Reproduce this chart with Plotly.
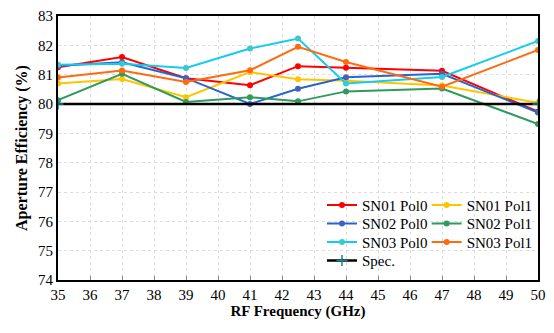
import plotly.graph_objects as go

freq = [35, 37, 39, 41, 42.5, 44, 47, 50]
sn01_pol0 = [81.25, 81.6, 80.88, 80.64, 81.29, 81.24, 81.13, 79.74]
sn01_pol1 = [80.70, 80.85, 80.23, 81.09, 80.84, 80.79, 80.63, 80.04]
sn02_pol0 = [81.30, 81.42, 80.88, 80.0, 80.52, 80.91, 81.03, 79.71]
sn02_pol1 = [80.13, 81.03, 80.07, 80.23, 80.09, 80.43, 80.53, 79.32]
sn03_pol0 = [81.34, 81.37, 81.23, 81.89, 82.23, 80.70, 80.92, 82.15]
sn03_pol1 = [80.90, 81.14, 80.75, 81.15, 81.95, 81.43, 80.59, 81.84]
spec_x = [35, 50]
spec_y = [80, 80]

# name, data, line colour, marker colour, legend column, legend row
series = [
    ("SN01 Pol0", sn01_pol0, "#FF0000", "#FF0000", 0, 0),
    ("SN01 Pol1", sn01_pol1, "#FFC400", "#FFC400", 1, 0),
    ("SN02 Pol0", sn02_pol0, "#2566CC", "#4A5FB8", 0, 1),
    ("SN02 Pol1", sn02_pol1, "#2E9A5C", "#2E9A5C", 1, 1),
    ("SN03 Pol0", sn03_pol0, "#14CCF0", "#3CC8CC", 0, 2),
    ("SN03 Pol1", sn03_pol1, "#FF6A10", "#FF6A10", 1, 2),
]

FONT = "Liberation Serif"
LEGFONT = dict(size=15, family=FONT, color="black")
COL_X = [0.550, 0.768]
ROW_Y = [0.283, 0.213, 0.143, 0.073]

fig = go.Figure()
legends = {}
for i, (name, ys, col, mcol, c, r) in enumerate(series):
    key = "legend" if i == 0 else f"legend{i+1}"
    fig.add_trace(go.Scatter(x=freq, y=ys, name=name, mode="lines+markers",
                             line=dict(color=col, width=2),
                             marker=dict(color=mcol, size=6),
                             legend=key))
    legends[key] = dict(x=COL_X[c], y=ROW_Y[r], xanchor="left", yanchor="middle",
                        bgcolor="rgba(255,255,255,0)", font=LEGFONT, itemwidth=30)
fig.add_trace(go.Scatter(x=spec_x, y=spec_y, name="Spec.", mode="lines+markers",
                         line=dict(color="black", width=2.5),
                         marker=dict(symbol="cross-thin", size=8,
                                     line=dict(color="#1A8080", width=1.5)),
                         legend="legend7"))
legends["legend7"] = dict(x=COL_X[0], y=ROW_Y[3], xanchor="left", yanchor="middle",
                          bgcolor="rgba(255,255,255,0)", font=LEGFONT, itemwidth=30)

fig.update_layout(
    width=554, height=333,
    margin=dict(l=58, r=9, t=8, b=53),
    paper_bgcolor="white", plot_bgcolor="white",
    font=dict(family=FONT, size=15, color="black"),
    showlegend=True,
    **legends,
)
fig.update_xaxes(range=[35, 50], dtick=1, tick0=35,
                 showline=True, linecolor="black", linewidth=2, mirror=True,
                 ticks="inside", ticklen=4, tickcolor="#888",
                 showgrid=True, gridcolor="#DDDDDD", griddash="dot", gridwidth=1,
                 zeroline=False,
                 title=dict(text="<b>RF Frequency (GHz)</b>", standoff=2,
                            font=dict(size=15, family=FONT)),
                 tickfont=dict(size=15, family=FONT))
fig.update_yaxes(range=[74, 83], dtick=1,
                 showline=True, linecolor="black", linewidth=2, mirror=True,
                 ticks="", showgrid=True, gridcolor="#DDDDDD", griddash="dot",
                 zeroline=False,
                 title=dict(text="<b>Aperture Efficiency (%)</b>", standoff=6,
                            font=dict(size=16, family=FONT)),
                 tickfont=dict(size=15, family=FONT))

fig.write_html("out.html")
